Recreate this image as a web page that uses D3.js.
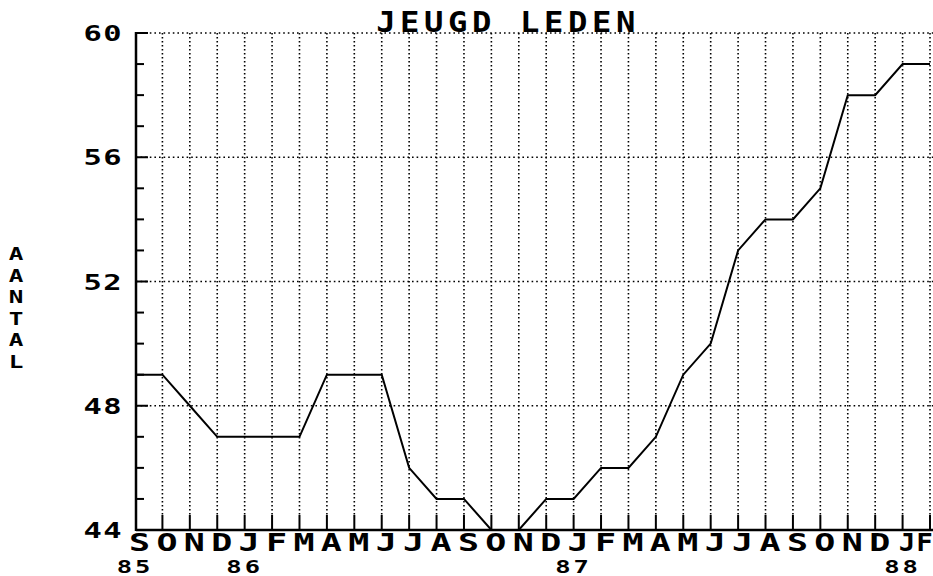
<!DOCTYPE html>
<html><head><meta charset="utf-8">
<script src="https://cdn.jsdelivr.net/npm/d3@7"></script>
<style>
html,body{margin:0;padding:0;background:#fff;}
svg{display:block;}
text{font-family:"DejaVu Sans Mono",monospace;font-weight:bold;fill:#000;}
</style></head>
<body>
<svg id="c" width="933" height="576"></svg>
<script>
const title = "JEUGD LEDEN";
const yLabel = "AANTAL";
const months = ["S","O","N","D","J","F","M","A","M","J","J","A","S","O","N","D","J","F","M","A","M","J","J","A","S","O","N","D","J","F"];
const values = [49,49,48,47,47,47,47,49,49,49,46,45,45,44,44,45,45,46,46,47,49,50,53,54,54,55,58,58,59,59];
const yearLabels = ["85","86","87","88"];
const yearIndex = [0,4,16,28];
const yTicks = [44,48,52,56,60];

const svg = d3.select("#c");
const L = 136, R = 933, T = 33, B = 530;
const x = d3.scaleLinear().domain([0, months.length - 1]).range([135, 930]);
const y = d3.scaleLinear().domain([44, 60]).range([B, T]);

// horizontal dotted grid
svg.append("g").selectAll("line").data(yTicks.filter(v => v > 44)).join("line")
  .attr("x1", L).attr("x2", R).attr("y1", d => y(d)).attr("y2", d => y(d))
  .attr("stroke", "#000").attr("stroke-width", 1.6).attr("stroke-dasharray", "1.6,3");

// vertical dotted grid
const idx = d3.range(1, months.length);
svg.append("g").selectAll("line").data(idx).join("line")
  .attr("x1", d => x(d)).attr("x2", d => x(d)).attr("y1", T).attr("y2", B - 14)
  .attr("stroke", "#000").attr("stroke-width", 1.6).attr("stroke-dasharray", "1.6,2.4");

// bottom solid month ticks
svg.append("g").selectAll("line").data(idx).join("line")
  .attr("x1", d => x(d)).attr("x2", d => x(d)).attr("y1", B).attr("y2", B - 15)
  .attr("stroke", "#000").attr("stroke-width", 2);

// left axis minor ticks (inward)
svg.append("g").selectAll("line").data(d3.range(44, 61)).join("line")
  .attr("x1", L).attr("x2", d => L + (d % 4 === 0 ? 12 : 8))
  .attr("y1", d => y(d)).attr("y2", d => y(d))
  .attr("stroke", "#000").attr("stroke-width", 2);

// axes lines
svg.append("line").attr("x1", L).attr("x2", L).attr("y1", T - 1).attr("y2", B + 1)
  .attr("stroke", "#000").attr("stroke-width", 2.5);
svg.append("line").attr("x1", L).attr("x2", R).attr("y1", B).attr("y2", B)
  .attr("stroke", "#000").attr("stroke-width", 2.5);

// y tick labels via axis
const ya = svg.append("g").attr("transform", `translate(${L - 13},0)`)
  .call(d3.axisLeft(y).tickValues(yTicks).tickSize(0).tickPadding(0));
ya.select(".domain").remove();
ya.selectAll("text").attr("font-family", "DejaVu Sans Mono").attr("font-weight", "bold")
  .attr("font-size", 21).attr("letter-spacing", 1).attr("dy", "0.36em").attr("fill", "#000")
  .attr("transform", "scale(1.45,1)");

// month labels via axis
const n = months.length;
const xa = svg.append("g").attr("transform", `translate(4,${B})`)
  .call(d3.axisBottom(x).tickValues(d3.range(n)).tickFormat(i => months[i]).tickSize(0).tickPadding(0));
xa.select(".domain").remove();
xa.selectAll("text").attr("font-family", "DejaVu Sans Mono").attr("font-weight", "bold")
  .attr("font-size", 25).attr("y", 21).attr("dy", 0).attr("fill", "#000")
  .attr("transform", (d, i) => i === n - 1 ? "translate(-10,0) scale(1.1,1)"
                              : i === n - 2 ? "scale(1.1,1)" : "scale(1.4,1)");

// year labels
svg.append("g").selectAll("text").data(yearIndex).join("text")
  .attr("transform", (d, i) => `translate(${x(d)},573) scale(1.5,1)`)
  .attr("text-anchor", "middle").attr("font-size", 17).attr("letter-spacing", 2)
  .text((d, i) => yearLabels[i]);

// title
svg.append("text").attr("transform", "translate(508,32) scale(1.15,1)").attr("text-anchor", "middle")
  .attr("font-size", 28).attr("letter-spacing", 4).text(title);

// y label stacked
const yl = svg.append("g");
yl.selectAll("text").data(yLabel.split("")).join("text")
  .attr("transform", (d, i) => `translate(16,${260 + i * 21.6}) scale(1.35,1)`)
  .attr("text-anchor", "middle").attr("font-size", 18).text(d => d);

// data line
svg.append("path").datum(values)
  .attr("d", d3.line().x((d, i) => x(i)).y(d => y(d)))
  .attr("fill", "none").attr("stroke", "#000").attr("stroke-width", 2);
</script>
</body></html>
